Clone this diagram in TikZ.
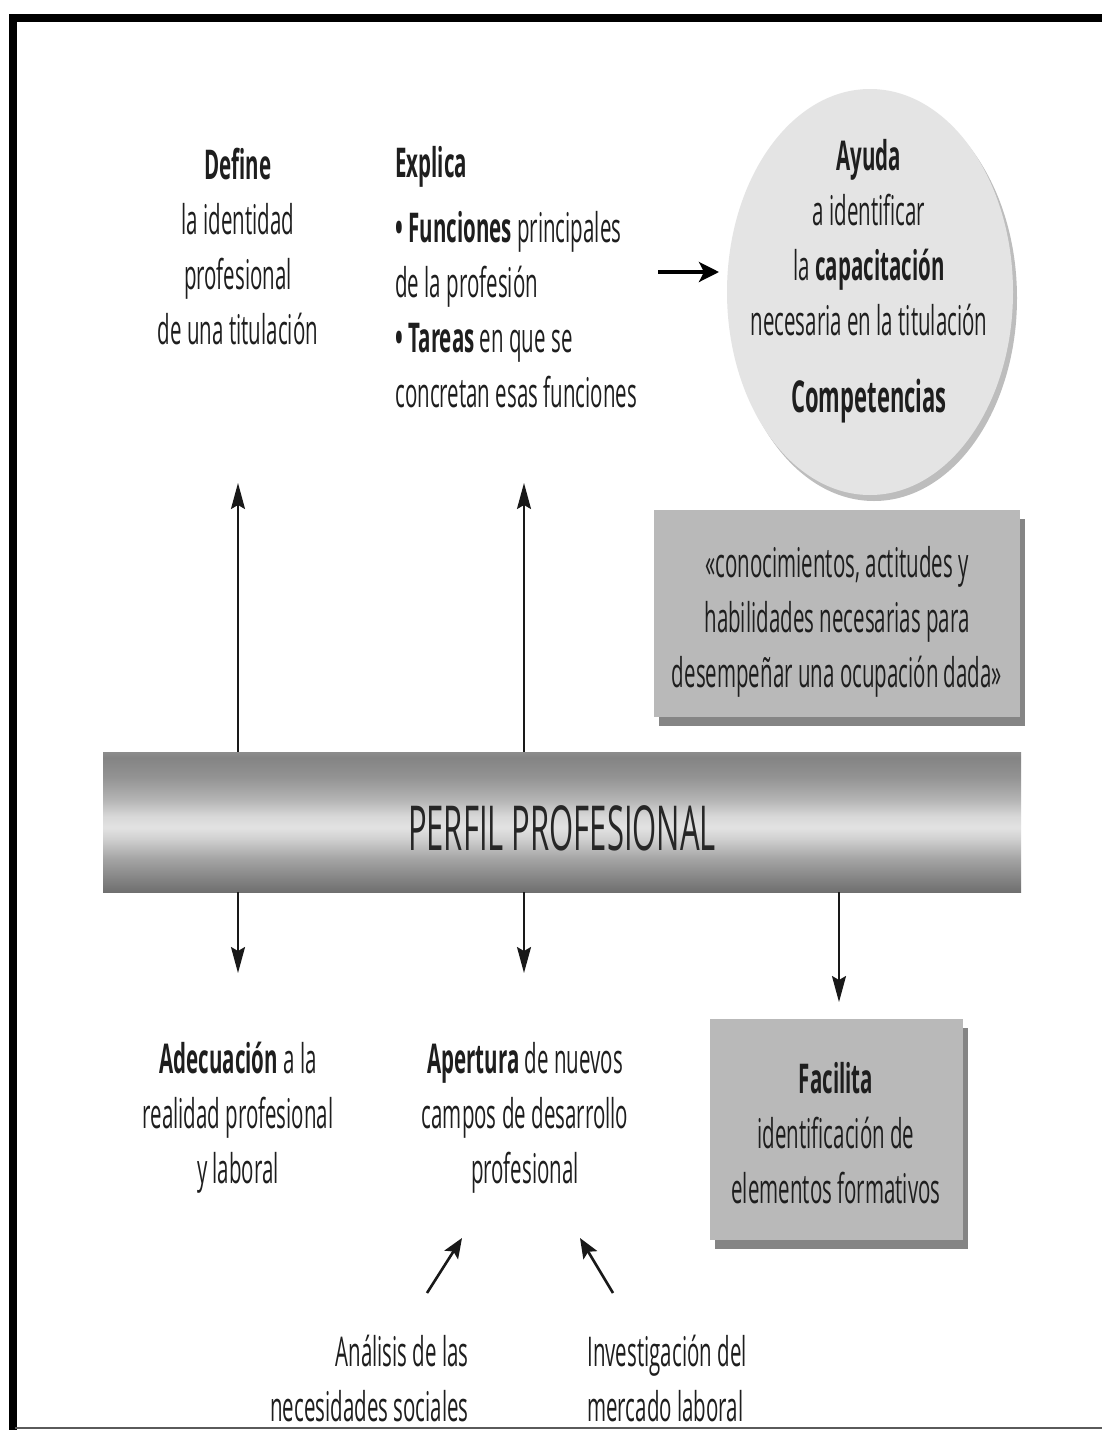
\documentclass[tikz,border=0pt]{standalone}
\usepackage{fontspec}
\setmainfont{Open Sans}[FakeStretch=0.5]
\usetikzlibrary{arrows.meta,shapes.geometric}

\definecolor{ink}{HTML}{1E1E1E}
\definecolor{boxfill}{HTML}{B9B9B9}
\definecolor{boxshade}{HTML}{858585}
\definecolor{discfill}{HTML}{E4E4E4}
\definecolor{discshade}{HTML}{BDBDBD}
\definecolor{rulegray}{HTML}{5A5A5A}
% tube colours, bottom to top
\definecolor{tubeA}{HTML}{6F6F6F}
\definecolor{tubeB}{HTML}{858585}
\definecolor{tubeC}{HTML}{A5A5A5}
\definecolor{tubeD}{HTML}{D0D0D0}
\definecolor{tubeE}{HTML}{E2E2E2}
\definecolor{tubeF}{HTML}{D8D8D8}
\definecolor{tubeG}{HTML}{B4B4B4}
\definecolor{tubeH}{HTML}{939393}
\definecolor{tubeI}{HTML}{848484}
\definecolor{tubeJ}{HTML}{8C8C8C}

\pgfdeclareverticalshading{tubeshade}{100bp}{%
  color(0bp)=(tubeA); color(25bp)=(tubeA); color(30bp)=(tubeB);
  color(37bp)=(tubeC); color(44bp)=(tubeD); color(48bp)=(tubeE);
  color(52bp)=(tubeF); color(58bp)=(tubeG); color(66bp)=(tubeH);
  color(73bp)=(tubeI); color(75bp)=(tubeJ); color(100bp)=(tubeJ)}

\begin{document}
\begin{tikzpicture}[x=0.5pt,y=-0.5pt,
  txt/.style={inner sep=0pt, text=ink, font=\fontsize{20.5}{27.5}\selectfont},
  greybox/.style={fill=boxfill, inner sep=0pt,
    preaction={fill=boxshade, transform canvas={shift={(2.5pt,-4.5pt)}}}},
  disc/.style={ellipse, fill=discfill, inner sep=0pt,
    preaction={fill=discshade, transform canvas={shift={(2pt,-3pt)}}}},
  tube/.style={shading=tubeshade, inner sep=0pt},
  thinarrow/.style={line width=1pt, draw=black!90,
    -{Stealth[length=13pt,width=7pt,inset=2pt]}},
  boldarrow/.style={line width=1.7pt, draw=black,
    -{Stealth[length=10pt,width=10pt,inset=2.5pt]}},
  slantarrow/.style={line width=1.3pt, draw=black!90,
    -{Stealth[length=10pt,width=8pt,inset=2pt]}}]

\useasboundingbox (0,0) rectangle (1102,1430);
\fill[white] (0,0) rectangle (1102,1430);

% ---------- upper row (anchors sit on the last baseline) ----------
\node[txt, align=center, anchor=base] (define) at (238,344)
  {\textbf{Define}\\la identidad\\profesional\\de una titulación};

\node[txt, align=left, anchor=base west] (explica) at (395,407)
  {\textbf{Explica}\\[5pt]
   \textbf{•} \textbf{Funciones} principales\\
   de la profesión\\
   \textbf{•} \textbf{Tareas} en que se\\
   concretan esas funciones};

\node[disc, minimum width=143pt, minimum height=203pt] (ayuda) at (870,292) {};
\node[txt, align=center, anchor=base] (ayudatext) at (869,412)
  {\textbf{Ayuda}\\a identificar\\la \textbf{capacitación}\\necesaria en la titulación\\[11pt]
   {\fontsize{22}{27.5}\selectfont\textbf{Competencias}}};

\coordinate (exTail) at (658,272);
\coordinate (exTip)  at (719,272);
\draw[boldarrow] (exTail) -- (exTip);

% ---------- definition of competence ----------
\node[greybox, minimum width=183pt, minimum height=103.5pt] (quote) at (836.5,613.5) {};
\node[txt, align=center, anchor=base] (quotetext) at (837,687)
  {«conocimientos, actitudes y\\habilidades necesarias para\\desempeñar una ocupación dada»};

% ---------- central tube ----------
\node[tube, minimum width=459pt, minimum height=70pt] (bar) at (562,822) {};
\node[inner sep=0pt, text=black!85, font=\fontsize{31}{34}\selectfont, anchor=base]
  (bartext) at (562,850) {PERFIL PROFESIONAL};

% ---------- arrows from the tube ----------
\coordinate (defTip) at (238,483);
\coordinate (expTip) at (524,483);
\draw[thinarrow] (bar.north -| defTip) -- (defTip);
\draw[thinarrow] (bar.north -| expTip) -- (expTip);

\coordinate (adeTip) at (238,973);
\coordinate (aperTip) at (524,973);
\coordinate (facTip) at (839,1002);
\draw[thinarrow] (bar.south -| adeTip) -- (adeTip);
\draw[thinarrow] (bar.south -| aperTip) -- (aperTip);
\draw[thinarrow] (bar.south -| facTip) -- (facTip);

% ---------- lower row ----------
\node[txt, align=center, anchor=base] (adecuacion) at (238,1183)
  {\textbf{Adecuación} a la\\realidad profesional\\y laboral};
\node[txt, align=center, anchor=base] (apertura) at (525,1183)
  {\textbf{Apertura} de nuevos\\campos de desarrollo\\profesional};

\node[greybox, minimum width=126.5pt, minimum height=110.5pt] (facilita) at (836.5,1129.5) {};
\node[txt, align=center, anchor=base] (facilitatext) at (836,1203)
  {\textbf{Facilita}\\identificación de\\elementos formativos};

% ---------- sources of the opening ----------
\node[txt, align=right, anchor=base east] (analisis) at (469,1421)
  {Análisis de las\\necesidades sociales};
\node[txt, align=left, anchor=base west] (investigacion) at (587,1421)
  {Investigación del\\mercado laboral};

\coordinate (anTail) at (427,1293);
\coordinate (anTip)  at (462,1238);
\coordinate (inTail) at (613,1293);
\coordinate (inTip)  at (580,1238);
\draw[slantarrow] (anTail) -- (anTip);
\draw[slantarrow] (inTail) -- (inTip);

% ---------- frame ----------
\draw[line width=4pt, line join=miter] (13,1430) -- (13,18) -- (1102,18);
\draw[rulegray, line width=1pt] (15,1428) -- (1102,1428);
\end{tikzpicture}
\end{document}
